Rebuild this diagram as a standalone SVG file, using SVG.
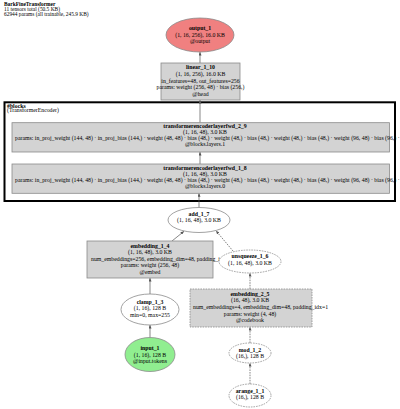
<svg xmlns="http://www.w3.org/2000/svg" width="400" height="409" viewBox="0 0 400 409">
<defs>
<style>
text{font-family:"Liberation Serif","Times New Roman",serif;font-size:5.8px;fill:#000}
.t{font-size:5.4px}
.b{font-weight:bold}
.m{text-anchor:middle}
.box{fill:#d3d3d3;stroke:#8a8a8a;stroke-width:0.8}
.ell{fill:#fff;stroke:#8a8a8a;stroke-width:0.8}
.dash{stroke-dasharray:1.6,1}
.edge{stroke:#555;stroke-width:0.7;fill:none;marker-end:url(#ah)}
</style>
<marker id="ah" markerUnits="userSpaceOnUse" markerWidth="4" markerHeight="3" refX="3.5" refY="1.5" orient="auto">
<path d="M0,0 L3.5,1.5 L0,3 z" fill="#555"/>
</marker>
</defs>
<rect width="400" height="409" fill="#fff"/>
<g id="title">
<text x="4" y="6.3" class="t b">BarkFineTransformer</text>
<text x="4" y="11.2" class="t">11 tensors total (50.5 KB)</text>
<text x="4" y="16.1" class="t">62944 params (all trainable, 245.9 KB)</text>
</g>
<g id="cluster_blocks">
<rect x="4.5" y="102.3" width="390.5" height="98.7" fill="none" stroke="#000" stroke-width="2"/>
<text x="7" y="107.5" class="b">#blocks</text>
<text x="7" y="112.4">(TransformerEncoder)</text>
</g>
<g id="connectors">
<line class="edge" x1="200" y1="63" x2="200" y2="52"/>
<line class="edge" x1="200" y1="122.7" x2="200" y2="100"/>
<line class="edge" x1="200" y1="164" x2="200" y2="152"/>
<line class="edge" x1="199" y1="207.5" x2="199" y2="193.3"/>
<line class="edge" x1="172" y1="241" x2="184" y2="231.3"/>
<line class="edge dash" x1="233" y1="251" x2="216" y2="230.8"/>
<line class="edge dash" x1="250" y1="289" x2="250" y2="273"/>
<line class="edge" x1="150" y1="337.5" x2="150" y2="325"/>
<line class="edge" x1="150" y1="294" x2="150" y2="278"/>
<line class="edge dash" x1="250" y1="343" x2="250" y2="327"/>
<line class="edge dash" x1="250" y1="384" x2="250" y2="363"/>
</g>
<g id="output_1">
<ellipse cx="200" cy="35" rx="34" ry="17" fill="#f08080" stroke="#8a8a8a" stroke-width="0.8"/>
<text x="200" y="30" class="m b">output_1</text>
<text x="200" y="36.7" class="m">(1, 16, 256), 16.0 KB</text>
<text x="200" y="43.4" class="m">@output</text>
</g>
<g id="linear_1_10">
<rect class="box" x="161" y="63" width="79" height="37"/>
<text x="200.5" y="69.3" class="m b">linear_1_10</text>
<text x="200.5" y="75.9" class="m">(1, 16, 256), 16.0 KB</text>
<text x="200.5" y="82.5" class="m">in_features=48, out_features=256</text>
<text x="200.5" y="89.1" class="m">params: weight (256, 48) · bias (256,)</text>
<text x="200.5" y="95.7" class="m">@head</text>
</g>
<g id="transformerencoderlayerfwd_2_9">
<rect class="box" x="12" y="122.7" width="377.5" height="29.3"/>
<text x="205" y="128.2" class="m b">transformerencoderlayerfwd_2_9</text>
<text x="205" y="134.2" class="m">(1, 16, 48), 3.0 KB</text>
<text x="15" y="140.2">params: in_proj_weight (144, 48) · in_proj_bias (144,) · weight (48, 48) · bias (48,) · weight (48,) · bias (48,) · weight (48,) · bias (48,) · weight (96, 48) · bias (96,) · weight (48, 96) · bias (48,)</text>
<text x="205" y="146.2" class="m">@blocks.layers.1</text>
</g>
<g id="transformerencoderlayerfwd_1_8">
<rect class="box" x="12" y="164" width="377.5" height="29.3"/>
<text x="205" y="169.5" class="m b">transformerencoderlayerfwd_1_8</text>
<text x="205" y="175.5" class="m">(1, 16, 48), 3.0 KB</text>
<text x="15" y="181.5">params: in_proj_weight (144, 48) · in_proj_bias (144,) · weight (48, 48) · bias (48,) · weight (48,) · bias (48,) · weight (48,) · bias (48,) · weight (96, 48) · bias (96,) · weight (48, 96) · bias (48,)</text>
<text x="205" y="187.5" class="m">@blocks.layers.0</text>
</g>
<g id="add_1_7">
<ellipse class="ell" cx="199" cy="220" rx="31" ry="12.5"/>
<text x="199" y="215.5" class="m b">add_1_7</text>
<text x="199" y="222" class="m">(1, 16, 48), 3.0 KB</text>
</g>
<g id="embedding_1_4">
<rect class="box" x="87" y="241" width="126" height="37"/>
<text x="150" y="247.8" class="m b">embedding_1_4</text>
<text x="150" y="254.3" class="m">(1, 16, 48), 3.0 KB</text>
<text x="91" y="260.8">num_embeddings=256, embedding_dim=48, padding_idx=1</text>
<text x="150" y="267.3" class="m">params: weight (256, 48)</text>
<text x="150" y="273.8" class="m">@embed</text>
</g>
<g id="unsqueeze_1_6">
<ellipse class="ell dash" cx="250" cy="261.5" rx="31" ry="11.5"/>
<text x="250" y="258.2" class="m b">unsqueeze_1_6</text>
<text x="250" y="264.6" class="m">(1, 16, 48), 3.0 KB</text>
</g>
<g id="embedding_2_5">
<rect class="box dash" x="190" y="289" width="122" height="38"/>
<text x="250" y="295.8" class="m b">embedding_2_5</text>
<text x="250" y="302.4" class="m">(16, 48), 3.0 KB</text>
<text x="193" y="309">num_embeddings=4, embedding_dim=48, padding_idx=1</text>
<text x="250" y="315.6" class="m">params: weight (4, 48)</text>
<text x="250" y="322.2" class="m">@codebook</text>
</g>
<g id="clamp_1_3">
<ellipse class="ell" cx="150" cy="309.5" rx="29" ry="15.5"/>
<text x="150" y="303.5" class="m b">clamp_1_3</text>
<text x="150" y="310.1" class="m">(1, 16), 128 B</text>
<text x="150" y="316.7" class="m">min=0, max=255</text>
</g>
<g id="input_1">
<ellipse cx="150" cy="354.5" rx="25" ry="17" fill="#90ee90" stroke="#8a8a8a" stroke-width="0.8"/>
<text x="150" y="350" class="m b">input_1</text>
<text x="150" y="356.7" class="m">(1, 16), 128 B</text>
<text x="150" y="363.4" class="m">@input.tokens</text>
</g>
<g id="mod_1_2">
<ellipse class="ell dash" cx="250" cy="353" rx="21" ry="10"/>
<text x="250" y="351.7" class="m b">mod_1_2</text>
<text x="250" y="358" class="m">(16,), 128 B</text>
</g>
<g id="arange_1_1">
<ellipse class="ell dash" cx="250" cy="395.5" rx="21" ry="11.5"/>
<text x="250" y="392.7" class="m b">arange_1_1</text>
<text x="250" y="399" class="m">(16,), 128 B</text>
</g>
</svg>
